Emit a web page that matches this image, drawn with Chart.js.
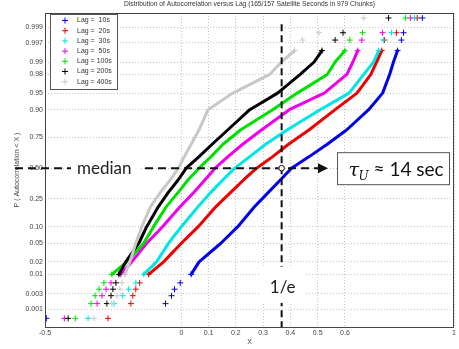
<!DOCTYPE html>
<html>
<head>
<meta charset="utf-8">
<script src="https://cdn.jsdelivr.net/npm/chart.js@4.4.1/dist/chart.umd.min.js"></script>
<style>
  html, body { margin: 0; padding: 0; background: #fff; }
</style>
</head>
<body>
<canvas id="grafico" width="459" height="349"></canvas>
<script>
// niveles de probabilidad (eje Y en escala normal)
let niveles = [0.0005, 0.0015, 0.0026, 0.004, 0.006, 0.01, 0.02, 0.05, 0.1, 0.2, 0.3, 0.4, 0.5, 0.6, 0.7, 0.8, 0.9, 0.95, 0.98, 0.99, 0.995, 0.9975, 0.9985, 0.9995]

// valor X de cada serie en cada nivel
let lag10  = [-0.495, -0.058, -0.036, -0.025, -0.004, 0.036, 0.065, 0.145, 0.207, 0.269, 0.320, 0.364, 0.404, 0.469, 0.535, 0.607, 0.687, 0.738, 0.764, 0.778, 0.793, 0.807, 0.815, 0.884]
let lag20  = [-0.269, -0.185, -0.178, -0.167, -0.153, -0.120, -0.065, 0.000, 0.062, 0.127, 0.182, 0.229, 0.276, 0.335, 0.393, 0.469, 0.564, 0.644, 0.695, 0.716, 0.735, 0.745, 0.789, 0.865]
let lag30  = [-0.342, -0.247, -0.215, -0.193, -0.167, -0.138, -0.091, -0.047, 0.000, 0.062, 0.109, 0.153, 0.196, 0.251, 0.309, 0.389, 0.509, 0.615, 0.669, 0.705, 0.724, 0.742, 0.771, 0.855]
let lag50  = [-0.429, -0.309, -0.291, -0.276, -0.258, -0.222, -0.182, -0.127, -0.069, -0.004, 0.047, 0.087, 0.124, 0.171, 0.225, 0.295, 0.396, 0.524, 0.607, 0.629, 0.647, 0.662, 0.738, 0.840]
let lag100 = [-0.389, -0.331, -0.316, -0.302, -0.284, -0.255, -0.200, -0.138, -0.102, -0.055, -0.011, 0.025, 0.065, 0.109, 0.153, 0.218, 0.335, 0.425, 0.535, 0.564, 0.600, 0.618, 0.665, 0.822]
let lag200 = [-0.415, -0.273, -0.258, -0.251, -0.240, -0.229, -0.204, -0.156, -0.127, -0.084, -0.047, -0.011, 0.018, 0.065, 0.113, 0.171, 0.251, 0.353, 0.436, 0.487, 0.516, 0.564, 0.593, 0.760]
let lag400 = [-0.320, -0.255, -0.236, -0.225, -0.218, -0.207, -0.189, -0.167, -0.145, -0.113, -0.076, -0.040, -0.011, 0.011, 0.036, 0.065, 0.098, 0.189, 0.324, 0.367, 0.415, 0.444, 0.505, 0.669]

let etiquetas = ['Lag =  10s', 'Lag =  20s', 'Lag =  30s', 'Lag =  50s', 'Lag = 100s', 'Lag = 200s', 'Lag = 400s']
let colores = ['#0000ee', '#ee0000', '#00e5e5', '#ee00ee', '#00e000', '#000000', '#c8c8c8']

let ticksP = [0.001, 0.003, 0.01, 0.02, 0.05, 0.10, 0.25, 0.50, 0.75, 0.90, 0.95, 0.98, 0.99, 0.997, 0.999]
let ticksPTexto = ['0.001', '0.003', '0.01', '0.02', '0.05', '0.10', '0.25', '0.50', '0.75', '0.90', '0.95', '0.98', '0.99', '0.997', '0.999']
let ticksX = [-0.5, 0, 0.1, 0.2, 0.3, 0.4, 0.5, 0.6, 1]
let ticksXTexto = ['-0.5', '0', '0.1', '0.2', '0.3', '0.4', '0.5', '0.6', '1']

let titulo = 'Distribution of Autocorrelation versus Lag (165/157 Satellite Seconds in 979 Chunks)'

// inversa de la normal (Acklam)
function probit(p){
    const a = [-3.969683028665376e+01, 2.209460984245205e+02, -2.759285104469687e+02, 1.383577518672690e+02, -3.066479806614716e+01, 2.506628277459239e+00]
    const b = [-5.447609879822406e+01, 1.615858368580409e+02, -1.556989798598866e+02, 6.680131188771972e+01, -1.328068155288572e+01]
    const c = [-7.784894002430293e-03, -3.223964580411365e-01, -2.400758277161838e+00, -2.549732539343734e+00, 4.374664141464968e+00, 2.938163982698783e+00]
    const d = [7.784695709041462e-03, 3.224671290700398e-01, 2.445134137142996e+00, 3.754408661907416e+00]
    let q, r
    if(p < 0.02425){
        q = Math.sqrt(-2*Math.log(p))
        return (((((c[0]*q+c[1])*q+c[2])*q+c[3])*q+c[4])*q+c[5])/((((d[0]*q+d[1])*q+d[2])*q+d[3])*q+1)
    }
    if(p > 1-0.02425){
        q = Math.sqrt(-2*Math.log(1-p))
        return -(((((c[0]*q+c[1])*q+c[2])*q+c[3])*q+c[4])*q+c[5])/((((d[0]*q+d[1])*q+d[2])*q+d[3])*q+1)
    }
    q = p-0.5
    r = q*q
    return (((((a[0]*r+a[1])*r+a[2])*r+a[3])*r+a[4])*r+a[5])*q/(((((b[0]*r+b[1])*r+b[2])*r+b[3])*r+b[4])*r+1)
}

function esCola(k){
    return niveles[k] <= 0.0101 || niveles[k] >= 0.9949
}
function sinLinea(k){
    return niveles[k] < 0.008 || niveles[k] > 0.996
}

let series = [lag10, lag20, lag30, lag50, lag100, lag200, lag400]
let datasets = series.map((xs, i) => ({
    label: etiquetas[i],
    data: xs.map((x, k) => ({x: x, y: probit(niveles[k])})),
    showLine: true,
    borderColor: colores[i],
    backgroundColor: colores[i],
    borderWidth: 3,
    borderJoinStyle: 'round',
    borderCapStyle: 'round',
    pointStyle: 'cross',
    pointRadius: ctx => esCola(ctx.dataIndex) ? 3 : 0,
    pointBorderWidth: 1,
    pointBorderColor: colores[i],
    segment: {
        borderColor: ctx => (sinLinea(ctx.p0DataIndex) || sinLinea(ctx.p1DataIndex)) ? 'rgba(0,0,0,0)' : undefined
    },
    order: -i
}))

const fuente = 'Liberation Sans'

const titulos = {
    id: 'titulos',
    afterDraw(chart){
        const ctx = chart.ctx
        const area = chart.chartArea
        ctx.save()
        // caja de ejes
        ctx.strokeStyle = '#444'
        ctx.lineWidth = 1
        ctx.strokeRect(area.left + 0.5, area.top + 0.5, area.right - area.left - 1, area.bottom - area.top)
        // titulo
        ctx.fillStyle = '#333'
        ctx.font = '6.7px "' + fuente + '"'
        ctx.textAlign = 'center'
        ctx.textBaseline = 'middle'
        ctx.fillText(titulo, (area.left + area.right) / 2, 4)
        // leyenda
        ctx.fillStyle = '#fff'
        ctx.fillRect(50.5, 14.5, 67, 75)
        ctx.strokeStyle = '#555'
        ctx.strokeRect(50.5, 14.5, 67, 75)
        ctx.font = '7px "' + fuente + '"'
        ctx.textAlign = 'left'
        chart.data.datasets.forEach((ds, i) => {
            let y = 20.5 + i * 10.2
            ctx.strokeStyle = ds.borderColor
            ctx.beginPath()
            ctx.moveTo(62, y); ctx.lineTo(68, y)
            ctx.moveTo(65, y - 3); ctx.lineTo(65, y + 3)
            ctx.stroke()
            ctx.fillStyle = '#333'
            ctx.fillText(ds.label, 77, y)
        })
        ctx.restore()
    }
}

const anotaciones = {
    id: 'anotaciones',
    afterDraw(chart){
        const ctx = chart.ctx
        const ex = chart.scales.x, ey = chart.scales.y
        const area = chart.chartArea
        const yMed = ey.getPixelForValue(probit(0.5))
        const xE = ex.getPixelForValue(1 / Math.E)
        const xIni = ex.getPixelForValue(-0.61)
        const xFlecha = ex.getPixelForValue(0.538)
        ctx.save()
        ctx.strokeStyle = '#111'
        ctx.fillStyle = '#111'
        ctx.lineWidth = 2
        // linea 1/e
        ctx.setLineDash([7, 4])
        ctx.beginPath()
        ctx.moveTo(xE, ey.getPixelForValue(probit(0.9992)))
        ctx.lineTo(xE, area.bottom)
        ctx.stroke()
        // linea mediana
        ctx.setLineDash([8, 5])
        ctx.beginPath()
        ctx.moveTo(xIni, yMed)
        ctx.lineTo(xFlecha - 8, yMed)
        ctx.stroke()
        ctx.setLineDash([])
        // punta de flecha
        ctx.beginPath()
        ctx.moveTo(xFlecha, yMed)
        ctx.lineTo(xFlecha - 10, yMed - 5)
        ctx.lineTo(xFlecha - 10, yMed + 5)
        ctx.closePath()
        ctx.fill()
        // circulo
        ctx.beginPath()
        ctx.arc(xE, yMed, 2.8, 0, 2 * Math.PI)
        ctx.fillStyle = '#fff'
        ctx.fill()
        ctx.lineWidth = 1
        ctx.stroke()
        // etiqueta median
        ctx.fillStyle = '#fff'
        ctx.fillRect(xIni + 56, yMed - 10, 70, 20)
        ctx.fillStyle = '#222'
        ctx.font = '17px Lato'
        ctx.textAlign = 'left'
        ctx.textBaseline = 'middle'
        ctx.fillText('median', xIni + 62, yMed)
        // etiqueta 1/e
        ctx.fillStyle = '#fff'
        ctx.fillRect(xE - 22, area.bottom - 60, 45, 36)
        ctx.fillStyle = '#222'
        ctx.textAlign = 'center'
        ctx.fillText('1/e', xE + 1, area.bottom - 39)
        // caja tau
        let bx = xFlecha + 9.5, by = yMed - 15.5
        ctx.fillStyle = '#fff'
        ctx.fillRect(bx, by, 112, 32)
        ctx.strokeStyle = '#555'
        ctx.strokeRect(bx, by, 112, 32)
        ctx.fillStyle = '#111'
        ctx.textAlign = 'left'
        ctx.textBaseline = 'alphabetic'
        let base = yMed + 8
        ctx.font = 'italic 19px "DejaVu Serif"'
        ctx.fillText('τ', bx + 11, base)
        ctx.font = 'italic 12px "DejaVu Serif"'
        ctx.fillText('U', bx + 21, base + 4)
        ctx.font = '19px Lato'
        ctx.fillText('≈ 14 sec', bx + 36, base)
        ctx.restore()
    }
}

new Chart(document.getElementById('grafico'), {
    type: 'scatter',
    data: { datasets: datasets },
    plugins: [titulos, anotaciones],
    options: {
        responsive: false,
        animation: false,
        devicePixelRatio: 1,
        layout: { padding: { top: 13, right: 1, left: 0, bottom: 0 } },
        plugins: {
            legend: { display: false },
            tooltip: { enabled: false },
            title: { display: false }
        },
        scales: {
            x: {
                type: 'linear',
                min: -0.5,
                max: 1,
                afterFit: s => { s.height = 22 },
                afterBuildTicks: s => { s.ticks = ticksX.map(v => ({value: v})) },
                ticks: {
                    autoSkip: false,
                    maxRotation: 0,
                    padding: 2,
                    color: '#444',
                    font: { family: fuente, size: 7 },
                    callback: (v, i) => ticksXTexto[i]
                },
                grid: { color: '#c4c4c4', drawTicks: false, lineWidth: 1 },
                border: { display: false, dash: [1, 2] },
                title: { display: true, text: 'X', color: '#444', font: { family: fuente, size: 7 }, padding: { top: 0, bottom: 3 } }
            },
            y: {
                type: 'linear',
                min: -3.48,
                max: 3.40,
                afterFit: s => { s.width = 45 },
                afterBuildTicks: s => { s.ticks = ticksP.map(p => ({value: probit(p)})) },
                ticks: {
                    autoSkip: false,
                    padding: 2,
                    color: '#444',
                    font: { family: fuente, size: 7 },
                    callback: (v, i) => ticksPTexto[i]
                },
                grid: { color: '#c4c4c4', drawTicks: false, lineWidth: 1 },
                border: { display: false, dash: [1, 2] },
                title: { display: true, text: 'P ( Autocorrelation < X )', color: '#444', font: { family: fuente, size: 7 }, padding: { top: 13, bottom: 0 } }
            }
        }
    }
})
</script>
</body>
</html>
